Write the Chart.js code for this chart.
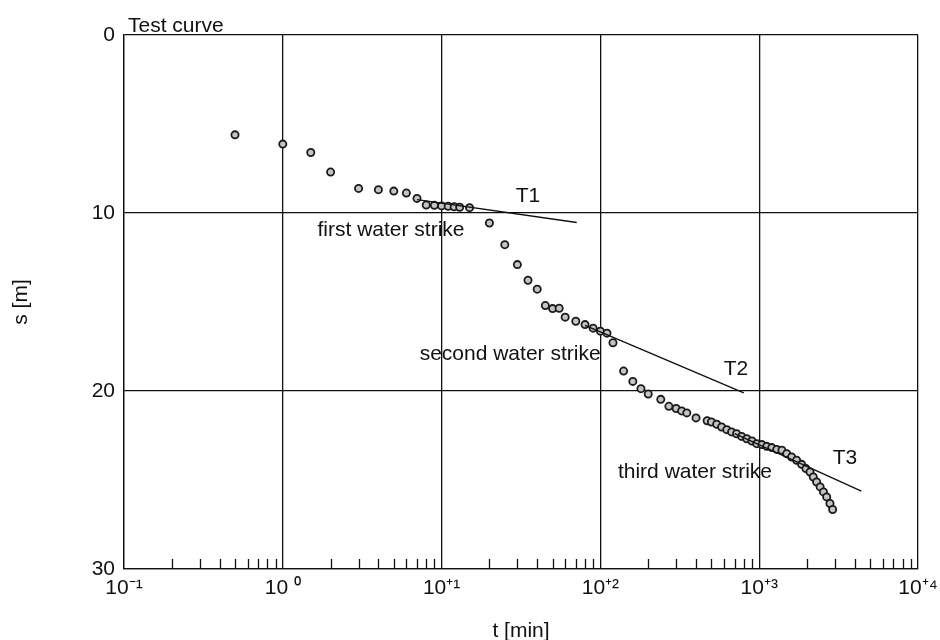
<!DOCTYPE html>
<html>
<head>
<meta charset="utf-8">
<script src="https://cdn.jsdelivr.net/npm/chart.js@4.4.1/dist/chart.umd.min.js"></script>
<style>
  html, body { margin: 0; padding: 0; background: #fff; }
  #chart { display: block; }
</style>
</head>
<body>
<canvas id="chart" width="940" height="640"></canvas>
<script>
// --- measured drawdown: time [min] vs. s [m] ---
const timeMin = [0.5, 1, 1.5, 2, 3, 4, 5, 6, 7, 8, 9, 10, 11, 12, 13, 15,
  20, 25, 30, 35, 40, 45, 50, 55, 60, 70, 80, 90, 100, 110, 120,
  140, 160, 180, 200, 240, 270, 300, 325, 350, 400,
  470, 500, 540, 580, 625, 670, 720, 775, 835, 900, 965,
  1040, 1115, 1200, 1290, 1390, 1490, 1600, 1720, 1850, 1970,
  2090, 2190, 2300, 2420, 2540, 2660, 2790, 2900];
const drawdown = [5.61, 6.13, 6.6, 7.7, 8.62, 8.69, 8.77, 8.88, 9.18, 9.55, 9.57, 9.6, 9.62, 9.65, 9.68, 9.7,
  10.56, 11.78, 12.9, 13.78, 14.28, 15.2, 15.37, 15.35, 15.85, 16.08, 16.27, 16.47, 16.64, 16.75, 17.29,
  18.88, 19.46, 19.87, 20.17, 20.47, 20.86, 20.98, 21.12, 21.23, 21.51,
  21.67, 21.74, 21.87, 22.02, 22.17, 22.3, 22.4, 22.55, 22.68, 22.81, 22.96,
  23.01, 23.11, 23.18, 23.28, 23.33, 23.52, 23.71, 23.89, 24.12, 24.36,
  24.55, 24.83, 25.11, 25.39, 25.67, 25.95, 26.32, 26.66];

// straight-line fits (start / end)
const t1Time = [7, 71];
const t1Draw = [9.25, 10.53];
const t2Time = [80, 800];
const t2Draw = [16.31, 20.1];
const t3Time = [700, 4400];
const t3Draw = [22.4, 25.63];

// axis ticks
const xDecades = [0.1, 1, 10, 100, 1000, 10000];
const xLabels = ['10\u207B\u00B9', '10 \u2070', '10\u207A\u00B9', '10\u207A\u00B2', '10\u207A\u00B3', '10\u207A\u2074'];
const minorSteps = [2, 3, 4, 5, 6, 7, 8, 9];
const yTicks = [0, 10, 20, 30];

// text notes on the plot
const noteText = ['T1', 'first water strike', 'second water strike', 'T2', 'third water strike', 'T3'];
const noteTime = [35, 4.8, 27, 714, 394, 3470];
const noteDraw = [8.94, 10.88, 17.83, 18.68, 24.45, 23.67];

const FONT = "'Liberation Sans', Arial, sans-serif";
const INK = '#111';

const toXY = (xs, ys) => xs.map((x, i) => ({ x: x, y: ys[i] }));

// small upward ticks along the time axis, plus the notes
const extras = {
  id: 'extras',
  afterDatasetsDraw(chart) {
    const { ctx, chartArea, scales } = chart;
    const xs = scales.x, ys = scales.y;
    ctx.save();
    ctx.strokeStyle = INK;
    ctx.lineWidth = 1.3;
    ctx.beginPath();
    xDecades.slice(0, -1).forEach(d => {
      minorSteps.forEach(m => {
        const px = Math.round(xs.getPixelForValue(d * m)) + 0.5;
        ctx.moveTo(px, chartArea.bottom);
        ctx.lineTo(px, chartArea.bottom - 10);
      });
    });
    ctx.stroke();

    ctx.fillStyle = INK;
    ctx.font = '21px ' + FONT;
    ctx.textAlign = 'center';
    ctx.textBaseline = 'alphabetic';
    noteText.forEach((txt, i) => {
      ctx.fillText(txt, xs.getPixelForValue(noteTime[i]), ys.getPixelForValue(noteDraw[i]) + 7.5);
    });
    ctx.textAlign = 'left';
    ctx.fillText('Test curve', chartArea.left + 4, chartArea.top - 3);
    ctx.restore();
  }
};

const lineSet = (xs, ys) => ({
  data: toXY(xs, ys),
  showLine: true,
  borderColor: INK,
  borderWidth: 1.4,
  pointRadius: 0,
  fill: false,
  order: 0
});

new Chart(document.getElementById('chart'), {
  type: 'scatter',
  data: {
    datasets: [
      lineSet(t1Time, t1Draw),
      lineSet(t2Time, t2Draw),
      lineSet(t3Time, t3Draw),
      {
        data: toXY(timeMin, drawdown),
        pointRadius: 3.6,
        pointBackgroundColor: '#c4c4c4',
        pointBorderColor: '#1a1a1a',
        pointBorderWidth: 1.8,
        order: 1
      }
    ]
  },
  options: {
    responsive: false,
    animation: false,
    layout: { padding: { left: 0, right: 22, top: 35, bottom: 0 } },
    plugins: { legend: { display: false }, tooltip: { enabled: false } },
    scales: {
      x: {
        type: 'logarithmic',
        min: 0.1,
        max: 10000,
        afterBuildTicks: s => { s.ticks = xDecades.map(v => ({ value: v })); },
        afterFit: s => { s.height = 71; s.paddingLeft = 0; s.paddingRight = 0; },
        grid: { color: INK, lineWidth: 1.3, drawTicks: false },
        border: { color: INK, width: 1.3 },
        ticks: {
          autoSkip: false,
          maxRotation: 0,
          padding: 7,
          color: INK,
          font: { family: FONT, size: 21 },
          callback: (v, i) => xLabels[i]
        },
        title: {
          display: true,
          text: 't [min]',
          color: INK,
          font: { family: FONT, size: 21 },
          padding: { top: 0, bottom: -4 }
        }
      },
      y: {
        type: 'linear',
        reverse: true,
        min: 0,
        max: 30,
        afterBuildTicks: s => { s.ticks = yTicks.map(v => ({ value: v })); },
        afterFit: s => { s.width = 124; },
        grid: { color: INK, lineWidth: 1.3, drawTicks: false },
        border: { color: INK, width: 1.3 },
        ticks: {
          padding: 9,
          color: INK,
          font: { family: FONT, size: 21 }
        },
        title: {
          display: true,
          text: 's [m]',
          color: INK,
          font: { family: FONT, size: 21 },
          padding: { top: 9, bottom: 0 }
        }
      }
    }
  },
  plugins: [extras]
});
</script>
</body>
</html>
